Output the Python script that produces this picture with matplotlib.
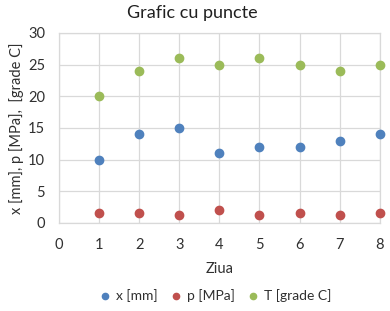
import matplotlib
matplotlib.use("Agg")
import matplotlib.pyplot as plt

days = [1, 2, 3, 4, 5, 6, 7, 8]
x_mm = [10, 14, 15, 11, 12, 12, 13, 14]
p_mpa = [1.5, 1.5, 1.3, 2.0, 1.2, 1.5, 1.2, 1.5]
t_grade = [20, 24, 26, 25, 26, 25, 24, 25]
series_labels = ["x [mm]", "p [MPa]", "T [grade C]"]
colors = ["#4F81BD", "#C0504D", "#9BBB59"]

plt.rcParams['font.family'] = ['Lato', 'DejaVu Sans']
txt = "#303030"
grid_c = "#D9D9D9"

fig = plt.figure(figsize=(3.9, 3.11), dpi=100)
ax = fig.add_axes([0.151, 0.283, 0.823, 0.611])

for vals, lab, c in zip([x_mm, p_mpa, t_grade], series_labels, colors):
    ax.plot(days, vals, linestyle="none", marker="o", markersize=6,
            color=c, label=lab, zorder=3, clip_on=False)

ax.set_xlim(0, 8)
ax.set_ylim(0, 30)
ax.set_xticks(range(0, 9))
ax.set_yticks(range(0, 31, 5))
ax.grid(True, color=grid_c, linewidth=0.9)
ax.set_axisbelow(True)
for s in ax.spines.values():
    s.set_color(grid_c)
    s.set_linewidth(0.9)
ax.tick_params(length=0, labelsize=10.5, colors=txt)
ax.tick_params(axis="x", pad=11)
ax.tick_params(axis="y", pad=10)
for lbl in ax.get_xticklabels() + ax.get_yticklabels():
    lbl.set_color(txt)

fig.text(0.494, 1 - 13 / 311, "Grafic cu puncte", fontsize=13, color="#202020",
         ha="center", va="center")
ax.set_xlabel("Ziua", fontsize=10.5, color=txt, labelpad=7)
ax.set_ylabel("x [mm], p [MPa],  [grade C]", fontsize=10.5, color=txt, labelpad=3)

fig.legend(loc="center", bbox_to_anchor=(0.552, 1 - 296 / 311), ncol=3, frameon=False,
           fontsize=10, handlelength=0.8, handletextpad=0.4, columnspacing=0.9,
           markerscale=0.75, labelcolor=txt)

fig.savefig("out.png", dpi=100)
